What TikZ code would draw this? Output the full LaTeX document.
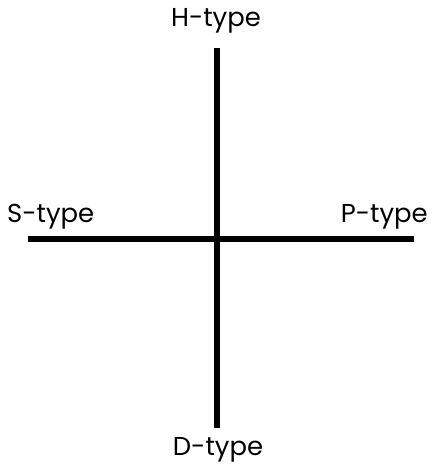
\documentclass[tikz,border=0pt]{standalone}
\usepackage{fontspec}
\setmainfont{Poppins}
\usetikzlibrary{positioning}

\begin{document}
\begin{tikzpicture}[
  x=1bp,y=-1bp,
  axis/.style={line width=5.5bp,black},
  lbl/.style={font=\fontsize{26}{28}\selectfont,inner sep=0pt}
]
  \useasboundingbox (0,0) rectangle (432,467);
  \coordinate(top) at (217,48);
  \coordinate(bot) at (217,428);
  \coordinate(lft) at (28,239);
  \coordinate(rgt) at (414,239);
  \draw[axis](top)--(bot);
  \draw[axis](lft)--(rgt);
  \node[lbl,anchor=base](htype) at (216,27) {H-type};
  \node[lbl,anchor=base](dtype) at (218,455) {D-type};
  \node[lbl,anchor=base west](stype) at (7,223) {S-type};
  \node[lbl,anchor=base east](ptype) at (428,223) {P-type};
\end{tikzpicture}
\end{document}
